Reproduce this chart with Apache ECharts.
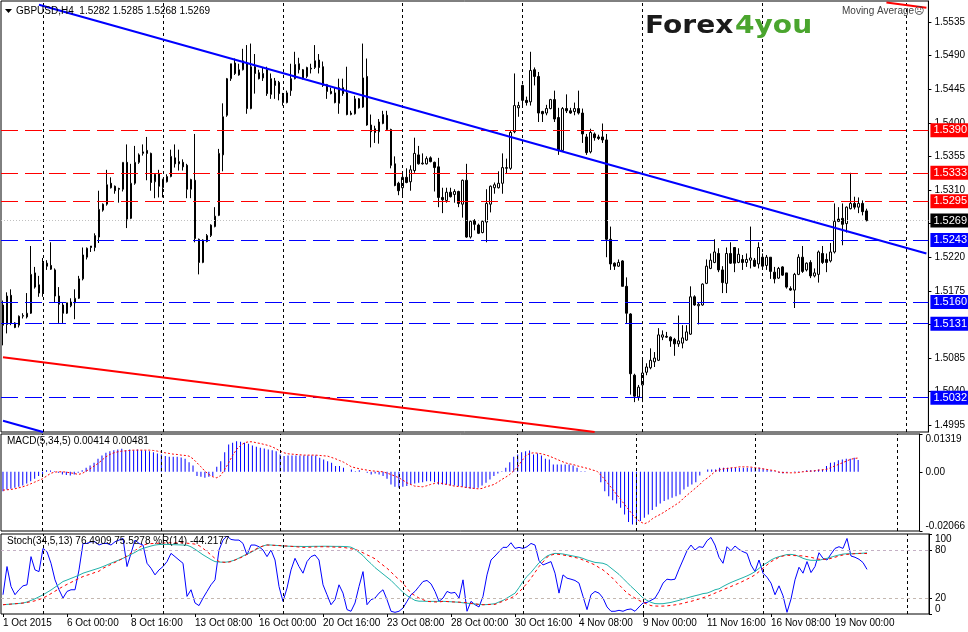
<!DOCTYPE html>
<html>
<head>
<meta charset="utf-8">
<title>GBPUSD H4</title>
<script src="https://cdn.jsdelivr.net/npm/echarts@6/dist/echarts.min.js"></script>
<style>
  html, body { margin: 0; padding: 0; background: #fff; }
  #chart { width: 968px; height: 632px; }
</style>
</head>
<body>
<div id="chart"></div>
<script>
// ── Data ──────────────────────────────────────────────────────────────────────
// GBPUSD H4, one entry per bar.

const opens = [
  1.5156,1.5130,1.5169,1.5132,1.5129,1.5141,1.5140,1.5145,1.5199,1.5183,
  1.5172,1.5212,1.5209,1.5203,1.5168,1.5156,1.5145,1.5155,1.5159,1.5165,
  1.5191,1.5220,1.5235,1.5233,1.5247,1.5283,1.5291,1.5319,1.5315,1.5312,
  1.5311,1.5347,1.5272,1.5319,1.5347,1.5359,1.5363,1.5359,1.5321,1.5332,
  1.5313,1.5321,1.5328,1.5353,1.5345,1.5347,1.5343,1.5311,1.5323,1.5244,
  1.5213,1.5241,1.5249,1.5261,1.5276,1.5357,1.5410,1.5459,1.5480,1.5464,
  1.5471,1.5480,1.5419,1.5475,1.5467,1.5460,1.5471,1.5438,1.5456,1.5454,
  1.5436,1.5427,1.5443,1.5459,1.5479,1.5471,1.5462,1.5472,1.5474,1.5484,
  1.5475,1.5451,1.5442,1.5440,1.5426,1.5447,1.5440,1.5411,1.5412,1.5432,
  1.5421,1.5462,1.5397,1.5392,1.5388,1.5399,1.5410,1.5391,1.5345,1.5319,
  1.5313,1.5327,1.5321,1.5336,1.5357,1.5345,1.5345,1.5353,1.5347,1.5341,
  1.5300,1.5296,1.5307,1.5304,1.5308,1.5291,1.5323,1.5247,1.5269,1.5263,
  1.5253,1.5267,1.5291,1.5313,1.5313,1.5319,1.5339,1.5339,1.5388,1.5420,
  1.5450,1.5430,1.5428,1.5471,1.5462,1.5415,1.5413,1.5419,1.5431,1.5407,
  1.5363,1.5419,1.5416,1.5415,1.5419,1.5413,1.5381,1.5361,1.5385,1.5381,
  1.5381,1.5377,1.5244,1.5212,1.5208,1.5215,1.5181,1.5144,1.5062,1.5033,
  1.5049,1.5066,1.5072,1.5080,1.5082,1.5113,1.5114,1.5113,1.5110,1.5104,
  1.5105,1.5109,1.5117,1.5167,1.5155,1.5156,1.5185,1.5205,1.5213,1.5225,
  1.5203,1.5185,1.5225,1.5233,1.5213,1.5217,1.5213,1.5216,1.5216,1.5211,
  1.5220,1.5209,1.5220,1.5200,1.5192,1.5207,1.5199,1.5178,1.5176,1.5197,
  1.5220,1.5203,1.5213,1.5195,1.5197,1.5225,1.5217,1.5215,1.5227,1.5271,
  1.5272,1.5265,1.5285,1.5292,1.5287,1.5292,1.5282
];
const highs = [
  1.5162,1.5173,1.5177,1.5133,1.5142,1.5145,1.5172,1.5235,1.5207,1.5195,
  1.5219,1.5216,1.5240,1.5205,1.5180,1.5159,1.5159,1.5165,1.5177,1.5195,
  1.5233,1.5233,1.5235,1.5252,1.5309,1.5292,1.5337,1.5327,1.5316,1.5313,
  1.5347,1.5371,1.5345,1.5369,1.5359,1.5371,1.5381,1.5360,1.5332,1.5337,
  1.5325,1.5331,1.5364,1.5371,1.5364,1.5351,1.5345,1.5325,1.5385,1.5245,
  1.5244,1.5251,1.5264,1.5287,1.5365,1.5426,1.5460,1.5479,1.5486,1.5479,
  1.5499,1.5504,1.5506,1.5492,1.5471,1.5474,1.5475,1.5466,1.5460,1.5456,
  1.5440,1.5443,1.5479,1.5495,1.5487,1.5472,1.5475,1.5479,1.5504,1.5492,
  1.5482,1.5452,1.5447,1.5447,1.5459,1.5459,1.5475,1.5416,1.5436,1.5433,
  1.5506,1.5486,1.5411,1.5396,1.5405,1.5416,1.5416,1.5392,1.5355,1.5321,
  1.5332,1.5339,1.5343,1.5380,1.5369,1.5359,1.5355,1.5355,1.5348,1.5353,
  1.5313,1.5313,1.5313,1.5311,1.5309,1.5324,1.5345,1.5269,1.5271,1.5265,
  1.5269,1.5311,1.5316,1.5320,1.5335,1.5359,1.5352,1.5389,1.5466,1.5428,
  1.5451,1.5435,1.5495,1.5474,1.5468,1.5416,1.5424,1.5432,1.5443,1.5420,
  1.5421,1.5438,1.5420,1.5427,1.5443,1.5419,1.5385,1.5392,1.5387,1.5384,
  1.5399,1.5385,1.5261,1.5213,1.5217,1.5216,1.5193,1.5145,1.5064,1.5049,
  1.5084,1.5078,1.5098,1.5093,1.5125,1.5122,1.5120,1.5114,1.5112,1.5142,
  1.5129,1.5129,1.5181,1.5169,1.5159,1.5185,1.5217,1.5225,1.5244,1.5232,
  1.5208,1.5233,1.5240,1.5233,1.5232,1.5223,1.5225,1.5261,1.5219,1.5240,
  1.5225,1.5223,1.5220,1.5207,1.5207,1.5208,1.5199,1.5181,1.5199,1.5224,
  1.5235,1.5213,1.5216,1.5205,1.5229,1.5235,1.5225,1.5239,1.5292,1.5287,
  1.5292,1.5288,1.5333,1.5301,1.5300,1.5296,1.5285
];
const lows = [
  1.5102,1.5118,1.5129,1.5125,1.5126,1.5138,1.5138,1.5144,1.5178,1.5167,
  1.5167,1.5203,1.5203,1.5159,1.5132,1.5132,1.5144,1.5153,1.5137,1.5164,
  1.5189,1.5217,1.5227,1.5228,1.5239,1.5281,1.5289,1.5312,1.5305,1.5293,
  1.5308,1.5259,1.5271,1.5317,1.5345,1.5356,1.5323,1.5309,1.5299,1.5300,
  1.5300,1.5320,1.5327,1.5340,1.5336,1.5336,1.5299,1.5299,1.5240,1.5197,
  1.5212,1.5240,1.5247,1.5260,1.5275,1.5335,1.5408,1.5456,1.5464,1.5463,
  1.5470,1.5412,1.5418,1.5439,1.5458,1.5456,1.5436,1.5432,1.5432,1.5430,
  1.5423,1.5426,1.5436,1.5458,1.5466,1.5458,1.5460,1.5466,1.5472,1.5466,
  1.5448,1.5432,1.5438,1.5426,1.5412,1.5436,1.5410,1.5410,1.5411,1.5419,
  1.5420,1.5396,1.5367,1.5373,1.5372,1.5398,1.5389,1.5339,1.5315,1.5303,
  1.5301,1.5319,1.5309,1.5333,1.5344,1.5344,1.5344,1.5347,1.5308,1.5287,
  1.5279,1.5293,1.5300,1.5293,1.5287,1.5273,1.5246,1.5245,1.5256,1.5251,
  1.5252,1.5240,1.5280,1.5305,1.5312,1.5305,1.5332,1.5337,1.5386,1.5408,
  1.5423,1.5423,1.5423,1.5450,1.5401,1.5401,1.5410,1.5418,1.5401,1.5357,
  1.5361,1.5413,1.5412,1.5410,1.5411,1.5373,1.5357,1.5359,1.5376,1.5377,
  1.5373,1.5220,1.5203,1.5203,1.5207,1.5181,1.5132,1.5036,1.5026,1.5028,
  1.5026,1.5062,1.5070,1.5073,1.5081,1.5109,1.5112,1.5100,1.5088,1.5100,
  1.5098,1.5108,1.5116,1.5155,1.5130,1.5155,1.5184,1.5204,1.5212,1.5200,
  1.5172,1.5172,1.5211,1.5200,1.5212,1.5203,1.5207,1.5205,1.5207,1.5205,
  1.5203,1.5203,1.5191,1.5185,1.5191,1.5195,1.5178,1.5175,1.5152,1.5196,
  1.5199,1.5201,1.5192,1.5193,1.5186,1.5211,1.5200,1.5213,1.5225,1.5267,
  1.5236,1.5253,1.5284,1.5284,1.5279,1.5276,1.5268
];
const closes = [
  1.5129,1.5168,1.5132,1.5126,1.5141,1.5142,1.5145,1.5197,1.5180,1.5172,
  1.5213,1.5208,1.5204,1.5168,1.5157,1.5145,1.5159,1.5160,1.5165,1.5191,
  1.5223,1.5232,1.5233,1.5249,1.5284,1.5291,1.5317,1.5313,1.5309,1.5311,
  1.5347,1.5271,1.5319,1.5347,1.5357,1.5361,1.5359,1.5320,1.5331,1.5315,
  1.5324,1.5328,1.5355,1.5345,1.5348,1.5341,1.5311,1.5324,1.5245,1.5213,
  1.5243,1.5249,1.5263,1.5275,1.5359,1.5408,1.5459,1.5479,1.5466,1.5471,
  1.5483,1.5419,1.5475,1.5466,1.5459,1.5466,1.5439,1.5459,1.5450,1.5439,
  1.5427,1.5440,1.5459,1.5478,1.5471,1.5460,1.5474,1.5473,1.5483,1.5474,
  1.5450,1.5442,1.5439,1.5427,1.5447,1.5439,1.5411,1.5413,1.5432,1.5420,
  1.5460,1.5397,1.5388,1.5387,1.5401,1.5411,1.5391,1.5343,1.5316,1.5309,
  1.5327,1.5320,1.5337,1.5359,1.5345,1.5346,1.5352,1.5348,1.5340,1.5300,
  1.5297,1.5307,1.5301,1.5308,1.5292,1.5323,1.5247,1.5268,1.5264,1.5252,
  1.5268,1.5292,1.5315,1.5317,1.5319,1.5340,1.5340,1.5387,1.5423,1.5423,
  1.5430,1.5427,1.5470,1.5462,1.5413,1.5412,1.5419,1.5431,1.5405,1.5363,
  1.5419,1.5416,1.5413,1.5419,1.5413,1.5385,1.5360,1.5387,1.5380,1.5379,
  1.5377,1.5244,1.5211,1.5208,1.5213,1.5181,1.5145,1.5064,1.5034,1.5046,
  1.5065,1.5073,1.5082,1.5085,1.5116,1.5116,1.5113,1.5108,1.5104,1.5108,
  1.5112,1.5120,1.5167,1.5156,1.5157,1.5184,1.5208,1.5216,1.5227,1.5203,
  1.5186,1.5225,1.5212,1.5212,1.5224,1.5213,1.5217,1.5219,1.5208,1.5233,
  1.5208,1.5220,1.5201,1.5191,1.5205,1.5196,1.5180,1.5176,1.5197,1.5220,
  1.5201,1.5212,1.5195,1.5199,1.5227,1.5213,1.5213,1.5227,1.5268,1.5268,
  1.5264,1.5287,1.5292,1.5287,1.5292,1.5281,1.5269
];

// MACD(5,34,5): histogram and signal
const macdHist = [
  -0.00675,-0.00616,-0.00593,-0.00558,-0.00523,-0.00477,-0.00407,-0.00326,-0.00244,-0.00151,
  -0.00093,0.00058,0.00047,0.00023,-0.00035,-0.00093,-0.00116,-0.00128,-0.00093,-0.00035,
  0.00058,0.0014,0.00221,0.00314,0.00454,0.0057,0.00663,0.00721,0.00756,0.00779,
  0.00802,0.00756,0.00779,0.00756,0.00779,0.00756,0.00744,0.00721,0.00686,0.0064,
  0.00605,0.00547,0.00523,0.00523,0.00523,0.005,0.00454,0.00337,0.00221,-0.00151,
  -0.00174,-0.00209,-0.00174,-0.00151,0.00174,0.00372,0.00686,0.00954,0.01012,0.0107,
  0.01047,0.01012,0.00977,0.00919,0.00872,0.00837,0.00814,0.00779,0.00756,0.00721,
  0.00605,0.00547,0.0057,0.0057,0.0057,0.0057,0.0057,0.0057,0.0057,0.0057,
  0.00488,0.0043,0.00372,0.00314,0.00198,0.00198,0.0014,0,0.00081,0.00023,
  0.00058,0,-0.00035,-0.00093,-0.00058,-0.00093,-0.00151,-0.00244,-0.00442,-0.00523,
  -0.00558,-0.00523,-0.005,-0.00442,-0.00407,-0.00384,-0.00361,-0.00326,-0.00326,-0.00361,
  -0.00442,-0.00442,-0.00442,-0.00477,-0.00477,-0.005,-0.00523,-0.00558,-0.00593,-0.00593,
  -0.00558,-0.00477,-0.00384,-0.00267,-0.00151,-0.00058,0.00023,0.0014,0.00337,0.00523,
  0.00605,0.00686,0.00721,0.00744,0.00605,0.0064,0.0057,0.00454,0.0043,0.00256,
  0.00256,0.00256,0.00256,0.00256,0.00221,0.0014,0.00023,0.00023,0.00005,0.00005,
  0.00005,-0.00361,-0.00675,-0.00849,-0.00989,-0.01105,-0.01256,-0.01489,-0.01756,-0.01838,
  -0.01838,-0.01721,-0.01605,-0.01489,-0.01337,-0.01221,-0.01105,-0.01023,-0.00965,-0.00907,
  -0.00849,-0.00791,-0.00616,-0.00523,-0.00442,-0.00361,-0.00128,0.00005,0.00081,0.00081,
  0.00081,0.0014,0.0014,0.0014,0.0014,0.0014,0.0014,0.0014,0.0014,0.0014,
  0.0014,0.0014,0.00105,0.00081,0.00058,0.00023,-0.00035,-0.00058,-0.00035,0.00005,
  0.00023,0.00023,0.00023,0.00058,0.00058,0.00058,0.00081,0.00081,0.00198,0.00314,
  0.00337,0.00407,0.0043,0.00454,0.00454,0.00488,0.00414
];
const macdSignal = [
  -0.0064,-0.00628,-0.00616,-0.00593,-0.00558,-0.00523,-0.00477,-0.00419,-0.00361,-0.00302,
  -0.00244,-0.00151,-0.00058,-0.00012,0,0,-0.00012,-0.00035,-0.00058,-0.00093,
  -0.00058,0.00023,0.00105,0.00198,0.00291,0.00407,0.00523,0.00605,0.00663,0.00698,
  0.00721,0.00733,0.00744,0.00756,0.00756,0.00756,0.00756,0.00756,0.00744,0.00721,
  0.00686,0.00663,0.0064,0.00616,0.00605,0.00582,0.0057,0.00547,0.00454,0.00314,
  0.00174,0.00023,-0.00093,-0.00174,-0.00209,-0.00128,0.00081,0.00314,0.0057,0.00779,
  0.00919,0.01012,0.01047,0.01047,0.01012,0.00989,0.00954,0.00919,0.00872,0.00802,
  0.00721,0.00663,0.00628,0.00616,0.00605,0.00593,0.00582,0.00582,0.00582,0.00582,
  0.0057,0.00558,0.00547,0.005,0.00454,0.00395,0.00337,0.00256,0.00174,0.0014,
  0.00105,0.00081,0.00058,0.00035,0.00023,0.00012,0,-0.00047,-0.00093,-0.00151,
  -0.00209,-0.00291,-0.00384,-0.00442,-0.005,-0.00512,-0.00523,-0.00488,-0.00442,-0.00407,
  -0.00384,-0.00407,-0.00442,-0.00465,-0.005,-0.00512,-0.00523,-0.00547,-0.00558,-0.00582,
  -0.00593,-0.00582,-0.00523,-0.00488,-0.00442,-0.00361,-0.00267,-0.00186,-0.00093,0.00035,
  0.00174,0.00372,0.00547,0.0064,0.00663,0.00651,0.00628,0.00593,0.00547,0.00488,
  0.0043,0.00372,0.00314,0.00279,0.00256,0.00209,0.00174,0.0014,0.00105,0.00058,
  0.00023,-0.00116,-0.00267,-0.00442,-0.00616,-0.00791,-0.00965,-0.0114,-0.01314,-0.01489,
  -0.0164,-0.01745,-0.01814,-0.01756,-0.0164,-0.01558,-0.01489,-0.01407,-0.01314,-0.01233,
  -0.0114,-0.01047,-0.00907,-0.00791,-0.00675,-0.00558,-0.00442,-0.00302,-0.00209,-0.00093,
  0.00023,0.0007,0.00105,0.00116,0.0014,0.00151,0.00174,0.00174,0.00174,0.00163,
  0.0014,0.00128,0.00105,0.00081,0.00058,0.00035,-0.00012,-0.00023,-0.00035,-0.00035,
  -0.00035,-0.00023,0,0.00012,0.00023,0.00035,0.00058,0.0007,0.00081,0.0014,
  0.00198,0.00256,0.00314,0.00372,0.0043,0.00465,0.00481
];

// Stochastic(34,5,13) main / signal and Williams %R(14)
const stochMain = [
  11.6,12,12.4,12.8,13.2,13.7,15,17,19,21.5,
  24,27,30,33.5,37,40.6,42.5,44.5,46.5,48.5,
  51,52.6,54.2,55.8,57.4,59.3,61.4,63.5,65.5,67.5,
  69.6,72,74.5,77,80,82,83.5,85,86.2,86.8,
  87,87,86.8,86.6,86.4,86.2,86,84,81,77.5,
  74,71,68,65.5,65,64.7,65,66,67.5,70,
  72.5,75,77,80,82.5,85,86.5,86.2,85.8,85.5,
  85,84.8,84.6,84.5,84.5,84.4,84.4,84.5,84.6,84.6,
  84.7,84.7,84.6,84.5,84.5,84.4,84.2,83.5,81,77,
  73,67.5,63,58,54,50,46,42,37,32,
  27,23,20,17,16,16,15.8,15.8,15.8,15.8,
  15.8,15.6,15.3,15,14.7,14,13.5,13,12.5,12,
  11.6,11.8,12.3,12.9,15,17,20,23,26,33,
  40.6,47,52,58,64,68.5,72.5,74.5,75.8,75.5,
  75,74,73,72,71,69.5,67.5,66,64.5,64,
  63.4,61.5,57.5,53.5,49.5,44.5,39.5,34.5,30,25,
  20,17,14.5,13,12.8,12.9,13.7,14.5,15.8,17,
  18.7,20,21.5,22.8,24,25.5,26.1,28,30.3,31.5,
  34.4,37,39.4,41.5,43.5,45.5,47.6,50,53,57,
  61.3,64,67.5,70,71.7,73,74.3,74.5,73.8,72,
  69.6,68,67.1,67.1,67.1,68.5,69.6,71,72.5,73.8,
  74.9,75.3,75.4,75.5,75.6,76,76.4909
];
const stochSignal = [
  11.6,12,12.4,12.8,13.2,13.7,14.5,15.3,16.5,18,
  19.9,22.5,25.5,28.5,31.5,34.4,37,39.5,42,44.5,
  46.8,48.5,50,52,53.5,57.2,59.5,62,64.5,67,
  69.6,72.5,76,79.2,83,86.2,87.5,88,88.2,88.5,
  88.7,89,89,89,89,89,88.5,88,87.4,85.5,
  82,78,73.8,69.5,65.5,64.8,64.3,65.5,67.5,69.5,
  71.7,74.5,77.9,80.5,83.3,85,86.2,86,85.8,85.6,
  85.3,85,84.6,84.2,83.7,83.3,83.4,83.6,83.8,84,
  84.1,84,83.8,83.6,83.5,83.3,82.5,81.5,80.8,79,
  76.5,74,71.7,69,65,61,57.2,52.5,47.5,43,
  38.6,32,26.1,23,19.9,17.9,15.8,15.4,15.1,15,
  15.8,15.6,15.2,15,14.8,14.5,14,13.3,12.7,12,
  11.6,11.8,11.9,12,14,16,17.9,20,22.8,27.5,
  32.4,38.5,44.8,52,59.3,65,71,73.5,75,74.5,
  73.8,72.7,71.7,70.6,69.6,67.5,65.5,63.5,61.3,58,
  55.1,51,46.8,41.5,36.5,31.5,26.1,23,19.9,17,
  14.5,12.5,10.5,10,9.8,9.9,10.2,10.8,11.4,12.3,
  13.3,14.7,15.8,17.2,18.7,20.3,22,24,26.1,28.2,
  30.3,32.4,34.4,36.5,38.6,41,43.5,46,48.9,53,
  57.2,61.3,65.5,68,70.9,72.5,73.4,73.2,73,72.8,
  72.6,71.7,70.9,69.5,68.4,68.4,68.4,69.5,70.9,72.5,
  73.8,74.5,75,75.4,75.8,75.7,75.5278
];
const williamsR = [
  -75.9,-40.7,-65.6,-75.9,-69.7,-64.8,-63.5,-28.3,-44.9,-47,
  -18,-22.1,-36.6,-57.3,-69.7,-80.1,-71.8,-69.7,-69.7,-44.9,
  -11.8,-11.8,-9.7,-9.7,-13.8,-11.8,-11.8,-13.8,-9.7,-7.6,
  -5.6,-40.7,-24.2,-7.6,-11.8,-13.8,-36.6,-42.8,-51.1,-44.9,
  -40.7,-34.5,-24.2,-28.3,-32.5,-36.6,-78,-69.7,-86.2,-89.5,
  -80.1,-71.8,-63.5,-57.3,-20,-7.6,-2.6,-6.8,-7.6,-7.6,
  -11.8,-26.2,-13.8,-13.8,-15.9,-20,-28.3,-20,-32.5,-65.6,
  -84.2,-67.6,-44.9,-30.4,-40.7,-49,-34.5,-28.3,-26.2,-32.5,
  -63.5,-75.9,-88.4,-82.1,-63.5,-73.9,-94.5,-96.6,-86.2,-65.6,
  -47,-88.4,-82.1,-80.1,-73.9,-69.7,-82.1,-96.6,-97.9,-96.6,
  -92.5,-84.2,-75.9,-71.8,-65.6,-59.4,-58.1,-62.3,-71.8,-84.2,
  -80.1,-71.8,-73.9,-73,-80.1,-57.3,-96.6,-84.2,-88.4,-91.2,
  -78,-51.1,-32.5,-27.5,-22.1,-16.7,-16.7,-10.9,-18,-16.7,
  -18,-15.9,-11.8,-13.8,-33.3,-38.7,-36.6,-34.5,-49,-73.9,
  -51.1,-55.2,-56.5,-58.1,-61.4,-78,-94.5,-75.9,-71.8,-73.9,
  -80.1,-91.2,-96.6,-96.6,-95.4,-96.6,-94.5,-93.7,-96.6,-91.2,
  -86.2,-85.5,-82.9,-80.1,-71.8,-61.4,-56.5,-57.3,-56.5,-44,
  -32.5,-20.9,-13.8,-20,-15.9,-16.7,-8.4,-4.3,-13.8,-29.1,
  -36.6,-15.9,-20.9,-15,-19.2,-22.1,-24.2,-38.7,-47,-32.5,
  -49,-54,-61.4,-75.9,-64.8,-77.2,-97.9,-81.3,-57.3,-41.6,
  -49,-34.5,-48.2,-40.7,-23.4,-30.4,-32.5,-25,-18,-15.9,
  -18,-5.6,-27.5,-29.1,-31.6,-35.7,-44.2177
];

// Horizontal levels and trendlines ([bar index, price] end points)
const resistance = [1.5390, 1.5333, 1.5295];
const support    = [1.5243, 1.5160, 1.5131, 1.5032];
const lastPrice  = 1.5269;
const trendBlue      = [[9, 1.5558], [231, 1.5225]];
const trendBlueLow   = [[0, 1.5001], [10, 1.4986]];
const trendRed       = [[0, 1.5086], [148, 1.4986]];
const trendRedTop    = [[221, 1.5561], [231, 1.5554]];

// Axis ticks / labels
const priceTicks = [1.4995, 1.5040, 1.5085, 1.5130, 1.5175, 1.5220, 1.5265,
                    1.5310, 1.5355, 1.5400, 1.5445, 1.5490, 1.5535];
const macdTicks  = [-0.02066, 0, 0.01319];
const stochTicks = [0, 20, 80, 100];
const timeLabels = ['1 Oct 2015', '6 Oct 00:00', '8 Oct 16:00', '13 Oct 08:00', '16 Oct 00:00',
                    '20 Oct 16:00', '23 Oct 08:00', '28 Oct 00:00', '30 Oct 16:00', '4 Nov 08:00',
                    '9 Nov 00:00', '11 Nov 16:00', '16 Nov 08:00', '19 Nov 00:00'];
const LABEL_STEP = 16;                                   // bars between time labels
const weekStarts = [10, 40, 70, 100, 130, 160, 190, 226]; // Monday 00:00 separators
const SLOT_COUNT = 232;                                  // bars + empty shift on the right

// ── Helpers ───────────────────────────────────────────────────────────────────

const FONT = 'Liberation Sans, Arial, sans-serif';
const slots = Array.from({ length: SLOT_COUNT }, (_, i) => String(i));
const ohlc = opens.map((o, i) => [o, closes[i], lows[i], highs[i]]);

// Fresh objects per series: ECharts rewrites markLine items in place.
const weekLines = () => weekStarts.map(i => ({
  xAxis: i,
  lineStyle: { color: '#000', type: [3, 3], width: 1 },
  label: { show: false },
}));

function levelLine(v, lineColor, boxColor, dash) {
  return {
    yAxis: v,
    lineStyle: { color: lineColor, type: dash, width: 1 },
    label: {
      show: true, position: 'end', distance: 2, formatter: v.toFixed(4),
      backgroundColor: boxColor, color: '#fff', padding: [2, 2, 1, 3],
      fontSize: 11, fontFamily: FONT,
    },
  };
}

function segment(pts, color) {
  return [
    { coord: pts[0], lineStyle: { color, width: 2, type: 'solid' }, label: { show: false } },
    { coord: pts[1] },
  ];
}

const hiddenX = (gridIndex) => ({
  type: 'category', gridIndex, data: slots, boundaryGap: true,
  axisLine: { show: false }, axisTick: { show: false },
  axisLabel: { show: false }, splitLine: { show: false },
});

const sideAxis = (gridIndex, min, max, ticks, fmt, extra) => ({
  type: 'value', gridIndex, position: 'right', min, max,
  axisLine: { show: true, lineStyle: { color: '#000' } },
  axisTick: { show: true, customValues: ticks, length: 3, lineStyle: { color: '#000' } },
  axisLabel: Object.assign({
    customValues: ticks, formatter: fmt, color: '#000',
    fontSize: 10, fontFamily: FONT, margin: 6,
  }, extra || {}),
  splitLine: { show: false },
});

const showLabel = (idx) => idx % LABEL_STEP === 0 && idx / LABEL_STEP < timeLabels.length;

// ── Chart ─────────────────────────────────────────────────────────────────────

const chart = echarts.init(document.getElementById('chart'), null, { renderer: 'canvas' });

chart.setOption({
  animation: false,
  backgroundColor: '#fff',
  grid: [
    { left: 1, top: 1,   width: 928, height: 431, show: true, borderColor: '#000', borderWidth: 1 },
    { left: 1, top: 434, width: 928, height: 97,  show: true, borderColor: '#000', borderWidth: 1 },
    { left: 1, top: 534, width: 928, height: 80,  show: true, borderColor: '#000', borderWidth: 1 },
  ],
  xAxis: [
    hiddenX(0),
    hiddenX(1),
    Object.assign(hiddenX(2), {
      axisTick: {
        show: true, interval: showLabel, alignWithLabel: true, length: 3,
        lineStyle: { color: '#000' },
      },
      axisLabel: {
        show: true, interval: showLabel, align: 'left', margin: 4,
        formatter: (v, idx) => timeLabels[idx / LABEL_STEP],
        color: '#000', fontSize: 10, fontFamily: FONT,
      },
    }),
  ],
  yAxis: [
    sideAxis(0, 1.4986, 1.5563, priceTicks, v => v.toFixed(4)),
    sideAxis(1, -0.02066, 0.01319, macdTicks, v => (v === 0 ? '0.00' : v.toFixed(5)),
      { verticalAlignMaxLabel: 'top', verticalAlignMinLabel: 'bottom' }),
    sideAxis(2, 0, 100, stochTicks, v => String(v),
      { verticalAlignMaxLabel: 'top', verticalAlignMinLabel: 'bottom' }),
    { type: 'value', gridIndex: 2, min: -100, max: 0, show: false },
  ],
  series: [
    {
      name: 'GBPUSD,H4', type: 'candlestick', xAxisIndex: 0, yAxisIndex: 0,
      data: ohlc, barWidth: 2, clip: false,
      itemStyle: {
        color: '#fff', color0: '#000',
        borderColor: '#000', borderColor0: '#000', borderWidth: 1,
      },
      markLine: {
        silent: true, symbol: 'none', animation: false, precision: 5,
        data: [
          ...weekLines(),
          ...resistance.map(v => levelLine(v, '#ff0000', '#ff0000', [17, 7])),
          ...support.map(v => levelLine(v, '#0000ff', '#0000ff', [17, 7])),
          levelLine(lastPrice, '#c0c0c0', '#000', [1, 2]),
          segment(trendBlue, '#0000ff'),
          segment(trendBlueLow, '#0000ff'),
          segment(trendRed, '#ff0000'),
          segment(trendRedTop, '#ff0000'),
        ],
      },
    },
    {
      name: 'MACD', type: 'bar', xAxisIndex: 1, yAxisIndex: 1,
      data: macdHist, barWidth: 1, itemStyle: { color: '#0000ff' },
      markLine: { silent: true, symbol: 'none', animation: false, data: weekLines() },
    },
    {
      name: 'Signal', type: 'line', xAxisIndex: 1, yAxisIndex: 1,
      data: macdSignal, symbol: 'none',
      lineStyle: { color: '#ff0000', width: 1, type: [2, 2] },
    },
    {
      name: '%R(14)', type: 'line', xAxisIndex: 2, yAxisIndex: 3,
      data: williamsR, symbol: 'none',
      lineStyle: { color: '#0000ff', width: 1 },
    },
    {
      name: 'Stoch main', type: 'line', xAxisIndex: 2, yAxisIndex: 2,
      data: stochMain, symbol: 'none',
      lineStyle: { color: '#20b2aa', width: 1 },
      markLine: {
        silent: true, symbol: 'none', animation: false,
        data: [
          ...weekLines(),
          { yAxis: 80, lineStyle: { color: '#c4b0c4', type: [3, 3], width: 1 }, label: { show: false } },
          { yAxis: 20, lineStyle: { color: '#c4b8b0', type: [3, 3], width: 1 }, label: { show: false } },
        ],
      },
    },
    {
      name: 'Stoch signal', type: 'line', xAxisIndex: 2, yAxisIndex: 2,
      data: stochSignal, symbol: 'none',
      lineStyle: { color: '#ff0000', width: 1, type: [3, 3] },
    },
  ],
  graphic: [
    { type: 'polygon', z: 100, shape: { points: [[5, 9], [12, 9], [8.5, 13]] }, style: { fill: '#000' } },
    { type: 'text', z: 100, x: 16, y: 11,
      style: { text: 'GBPUSD,H4  1.5282 1.5285 1.5268 1.5269', fill: '#000', font: '10px ' + FONT, verticalAlign: 'middle' } },
    { type: 'text', z: 100, x: 7, y: 441,
      style: { text: 'MACD(5,34,5) 0.00414 0.00481', fill: '#000', font: '10px ' + FONT, verticalAlign: 'middle' } },
    { type: 'text', z: 100, x: 7, y: 541,
      style: { text: 'Stoch(34,5,13) 76.4909 75.5278 %R(14) -44.2177', fill: '#000', font: '10px ' + FONT, verticalAlign: 'middle' } },
    { type: 'text', z: 100, x: 842, y: 11,
      style: { text: 'Moving Average\u2639', fill: '#404040', font: '10px ' + FONT, verticalAlign: 'middle' } },
    { type: 'text', z: 100, x: 645, y: 27, scaleX: 1.17,
      style: { text: 'Forex', fill: '#1a1a1a', font: 'bold 24px DejaVu Sans', verticalAlign: 'middle' } },
    { type: 'text', z: 100, x: 735, y: 27, scaleX: 1.17,
      style: { text: '4you', fill: '#4aa52e', font: 'bold 24px DejaVu Sans', verticalAlign: 'middle' } },
  ],
});
</script>
</body>
</html>
